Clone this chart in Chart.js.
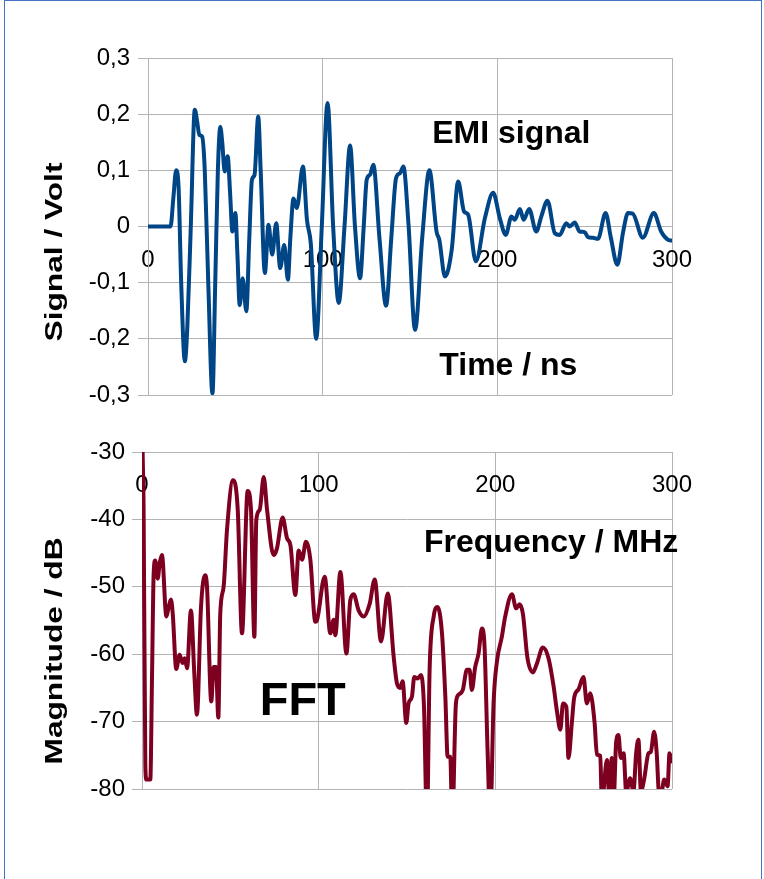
<!DOCTYPE html>
<html>
<head>
<meta charset="utf-8">
<script src="https://cdn.jsdelivr.net/npm/chart.js@4.4.1/dist/chart.umd.min.js"></script>
<style>
  html, body { margin: 0; padding: 0; background: #fff; }
  #page  { position: relative; width: 764px; height: 879px; overflow: hidden; }
  #frame { position: absolute; left: 4px; top: 0; width: 756px; height: 900px; border: 1px solid #4472c4; }
  canvas { position: absolute; left: 0; }
  #emi { top: 0; }
  #fft { top: 430px; }
</style>
</head>
<body>
<div id="page">
  <div id="frame"></div>
  <canvas id="emi" width="764" height="430"></canvas>
  <canvas id="fft" width="764" height="449"></canvas>
</div>
<script>
// ── DATA ──
const timeNs = [
  0, 12.9, 14.5, 16.1, 17.5, 19, 21.1, 22.5, 24.5, 26.8, 28, 29.4, 31, 32.5, 34.5, 36.9,
  38.5, 40, 41.4, 42.5, 43.9, 45.6, 47, 48.3, 50, 51.2, 52.5, 54.2, 56.3, 58, 59.5, 61,
  63.1, 64.5, 66.9, 69, 71.1, 73.4, 75.7, 78, 80.1, 81.5, 83.3, 85.2, 88.7, 91, 93.2, 96.3,
  99.5, 102.8, 106, 109.2, 112.5, 115.7, 118.5, 121.4, 123.5, 125.2, 127.1, 129, 132.5, 136.3,
  139.3, 142, 144.3, 146.2, 149.1, 152.9, 157, 161.1, 165.2, 166.8, 170, 173.9, 177.6, 180.9,
  183.3, 187.7, 192.9, 197.6, 201.4, 204.8, 208.1, 210, 212.9, 215.1, 218.2, 222.3, 225.2, 228.7,
  232.9, 235.7, 239.5, 241.4, 244.3, 247.1, 250, 251.9, 254.8, 257.6, 262, 265, 268.7, 272,
  274.8, 277.5, 283.3, 289.6, 293.8, 298, 300
];
const signalV = [
  0, 0, 0.05, 0.10, 0.07, -0.10, -0.24, -0.18, 0.0, 0.208, 0.19, 0.163, 0.16, 0.10, -0.10, -0.297,
  -0.10, 0.10, 0.177, 0.15, 0.098, 0.125, 0.06, -0.009, 0.024, -0.05, -0.14, -0.092, -0.151, -0.02, 0.083, 0.092,
  0.196, 0.10, -0.083, 0.003, -0.05, 0.006, -0.074, -0.033, -0.095, -0.02, 0.05, 0.033, 0.107, 0.012, -0.03, -0.20,
  0.0, 0.22, 0.0, -0.136, 0.0, 0.144, 0.0, -0.092, 0.0, 0.083, 0.092, 0.11, -0.02, -0.141,
  -0.02, 0.086, 0.095, 0.107, 0.006, -0.184, -0.02, 0.10, -0.009, -0.024, -0.089, -0.041, 0.08, 0.027,
  0.021, -0.062, 0.015, 0.06, 0.015, -0.015, 0.018, 0.012, 0.031, 0.012, 0.031, -0.009, 0.018, 0.046,
  -0.012, -0.015, 0.006, 0, 0.007, -0.009, -0.01, -0.019, -0.02, -0.022, 0.024, -0.02, -0.068, -0.01,
  0.024, 0.023, -0.02, 0.024, -0.009, -0.024, -0.025
];

const freqMHz = [
  0, 0.5, 0.9, 1.9, 2.5, 4.7, 5.7, 6.6, 7.5, 8.9, 10, 11.3, 13.8, 15.1, 16.4, 17.4,
  19.4, 21.3, 23, 24.2, 25.5, 27.7, 29.6, 31.1, 33.4, 35.7, 36.8, 39.2, 40.6, 41.9, 43.2, 44.3,
  46.2, 48.1, 51.5, 54.2, 56.6, 59.8, 61.7, 63.6, 64.7, 66.6, 68.9, 70.8, 74.5, 76.4, 79.6, 82.1,
  84, 86.8, 88.7, 90.6, 92.8, 95.3, 98.1, 99, 103.4, 106.6, 108.5, 109.4, 112.3, 115.7, 117.9, 119.8,
  122.6, 125.5, 128.9, 131.7, 135.3, 139.1, 142.5, 144.3, 146.2, 147.5, 149.6, 150.9, 152.8, 154.1, 155.9, 157.9,
  159.6, 161.3, 162.8, 165.1, 167.3, 169.8, 171.7, 173, 174.5, 175.6, 177.7, 179.2, 181.6, 183.9, 185.4, 186.7,
  188.6, 190.5, 192.4, 193.9, 195.6, 197.1, 199, 200.9, 203.7, 205.6, 209.4, 211.8, 213.7, 215.6, 218.2, 221.3,
  223.5, 226.9, 230.1, 233, 234.9, 236.8, 238.3, 240.2, 241.4, 243.3, 244.6, 247.1, 249.9, 251.8, 253.7, 256.2,
  257.5, 259.4, 260.3, 263.2, 264.6, 265.9, 266.9, 268.4, 269.7, 271, 272.6, 274.1, 276.3, 278.2, 279.7, 281,
  282.4, 284.2, 286.7, 288, 289.9, 291.4, 292.4, 293.7, 295.6, 297.5, 298.6, 300
];
const magnitudeDb = [
  -25, -32, -38.1, -76.7, -78.6, -78.6, -62.8, -48, -46.1, -48.8, -46.5, -45.3, -54.4, -53, -51.9, -54,
  -62.2, -60.1, -61.3, -60.6, -62.1, -53.5, -62.8, -69, -53, -48.3, -50, -67, -61.9, -61.9, -69.4, -54,
  -50, -41.6, -34.2, -38.6, -56.9, -35.8, -38.6, -57.4, -40.1, -38.6, -33.7, -38.6, -45.3, -44.3, -39.7, -42.8,
  -43.8, -51.2, -44.6, -46, -43.3, -46, -55.2, -55, -48.5, -56.9, -54.9, -57.2, -47.8, -59.9, -52, -51.1,
  -53.5, -54.4, -52.5, -48.9, -58.1, -51, -60.5, -64.3, -65, -64, -70.2, -67.3, -66.3, -63.4, -63.6, -63.1,
  -67.7, -85, -62.3, -54.4, -53, -56.9, -66.3, -75.2, -75.2, -85, -67.3, -66, -65.3, -62.3, -62.3, -65.3,
  -61.9, -59.9, -56.2, -58.9, -74.2, -85, -67.3, -61.1, -57.4, -54.4, -51.1, -53.2, -52.6, -54, -60.6, -62.7,
  -61.4, -59, -60.6, -64.8, -68.5, -71.2, -67.3, -67.8, -75.4, -70.2, -66.5, -65.2, -63.4, -67.3, -65.8, -70.2,
  -74.9, -75.1, -82, -75.7, -82, -75.4, -82, -73, -72, -75.4, -74.7, -80.5, -78.4, -80.3, -74.7, -72.7,
  -80.3, -78.6, -74.7, -74.5, -71.5, -74.9, -80, -81, -78.6, -79.6, -74.7, -75.9
];

const timeTicks = [0, 100, 200, 300];
const voltTicks = [-0.3, -0.2, -0.1, 0, 0.1, 0.2, 0.3];
const dbTicks   = [-80, -70, -60, -50, -40, -30];

// ── STYLE ──
const colors = {
  emi:  '#004586',
  fft:  '#7e0021',
  grid: '#b3b3b3',
  text: '#000000'
};
const FONT = "'Liberation Sans', Arial, sans-serif";

Chart.defaults.font.family = FONT;
Chart.defaults.font.size   = 24;
Chart.defaults.color       = colors.text;

const toPoints = (xs, ys) => xs.map((x, i) => ({ x, y: ys[i] }));
const commaNum = v => {
  const r = Math.round(v * 10) / 10;
  return r === 0 ? '0' : String(r).replace('.', ',');
};

// free text inside the plot + stretched vertical title
const chartText = {
  id: 'chartText',
  afterDraw(chart, args, opts) {
    const { ctx, scales: { x, y } } = chart;
    ctx.save();
    ctx.fillStyle = colors.text;
    ctx.textAlign = 'center';
    ctx.textBaseline = 'alphabetic';
    (opts.items || []).forEach(item => {
      ctx.font = item.font;
      ctx.fillText(item.text, x.getPixelForValue(item.x), y.getPixelForValue(item.y));
    });
    const t = opts.yTitle;
    if (t) {
      ctx.translate(t.left, t.top);
      ctx.rotate(-Math.PI / 2);
      ctx.scale(t.stretch, 1);
      ctx.font = t.font;
      ctx.fillText(t.text, 0, 0);
    }
    ctx.restore();
  }
};

function makeChart(canvasId, cfg) {
  const ctx = document.getElementById(canvasId);
  return new Chart(ctx, {
    type: 'line',
    data: {
      datasets: [{
        data: cfg.points,
        borderColor: cfg.color,
        borderWidth: 4,
        pointRadius: 0,
        fill: false,
        cubicInterpolationMode: 'monotone',
        borderJoinStyle: 'round',
        borderCapStyle: 'round',
        clip: cfg.clip
      }]
    },
    options: {
      responsive: false,
      animation: false,
      events: [],
      layout: { padding: cfg.padding },
      plugins: {
        legend: { display: false },
        tooltip: { enabled: false },
        chartText: cfg.text
      },
      scales: {
        x: {
          type: 'linear',
          min: cfg.xTicks[0],
          max: cfg.xTicks[cfg.xTicks.length - 1],
          position: { y: cfg.xAt },
          afterBuildTicks: s => { s.ticks = cfg.xTicks.map(v => ({ value: v })); },
          ticks: { padding: 19, color: colors.text, maxRotation: 0 },
          grid: { color: colors.grid, drawTicks: false },
          border: { color: colors.grid }
        },
        y: {
          type: 'linear',
          min: cfg.yTicks[0],
          max: cfg.yTicks[cfg.yTicks.length - 1],
          afterBuildTicks: s => { s.ticks = cfg.yTicks.map(v => ({ value: v })); },
          afterFit: s => { s.width = cfg.yWidth; },
          ticks: { padding: cfg.yPad, color: colors.text, callback: cfg.yFormat },
          grid: { color: colors.grid, tickLength: 10 },
          border: { color: colors.grid }
        }
      }
    },
    plugins: [chartText]
  });
}

// ── EMI SIGNAL ──
makeChart('emi', {
  points: toPoints(timeNs, signalV),
  color: colors.emi,
  padding: { top: 58, right: 92, bottom: 35, left: 0 },
  xTicks: timeTicks,
  yTicks: voltTicks,
  xAt: 0,
  yWidth: 148,
  yPad: 8,
  yFormat: commaNum,
  text: {
    items: [
      { text: 'EMI signal', x: 208, y: 0.1486, font: 'bold 32px ' + FONT },
      { text: 'Time / ns', x: 206.3, y: -0.2637, font: 'bold 32px ' + FONT }
    ],
    yTitle: { text: 'Signal / Volt', left: 62, top: 252, stretch: 1.32, font: 'bold 24px ' + FONT }
  }
});

// ── FFT MAGNITUDE ──
makeChart('fft', {
  points: toPoints(freqMHz, magnitudeDb),
  color: colors.fft,
  padding: { top: 22, right: 92, bottom: 90, left: 0 },
  xTicks: timeTicks,
  yTicks: dbTicks,
  xAt: -30,
  yWidth: 142,
  yPad: 7,
  yFormat: v => String(v),
  clip: 0,
  text: {
    items: [
      { text: 'Frequency / MHz', x: 231.6, y: -44.8, font: 'bold 32px ' + FONT },
      { text: 'FFT', x: 91, y: -69, font: 'bold 47px ' + FONT }
    ],
    yTitle: { text: 'Magnitude / dB', left: 62, top: 221, stretch: 1.32, font: 'bold 24px ' + FONT }
  }
});
</script>
</body>
</html>
